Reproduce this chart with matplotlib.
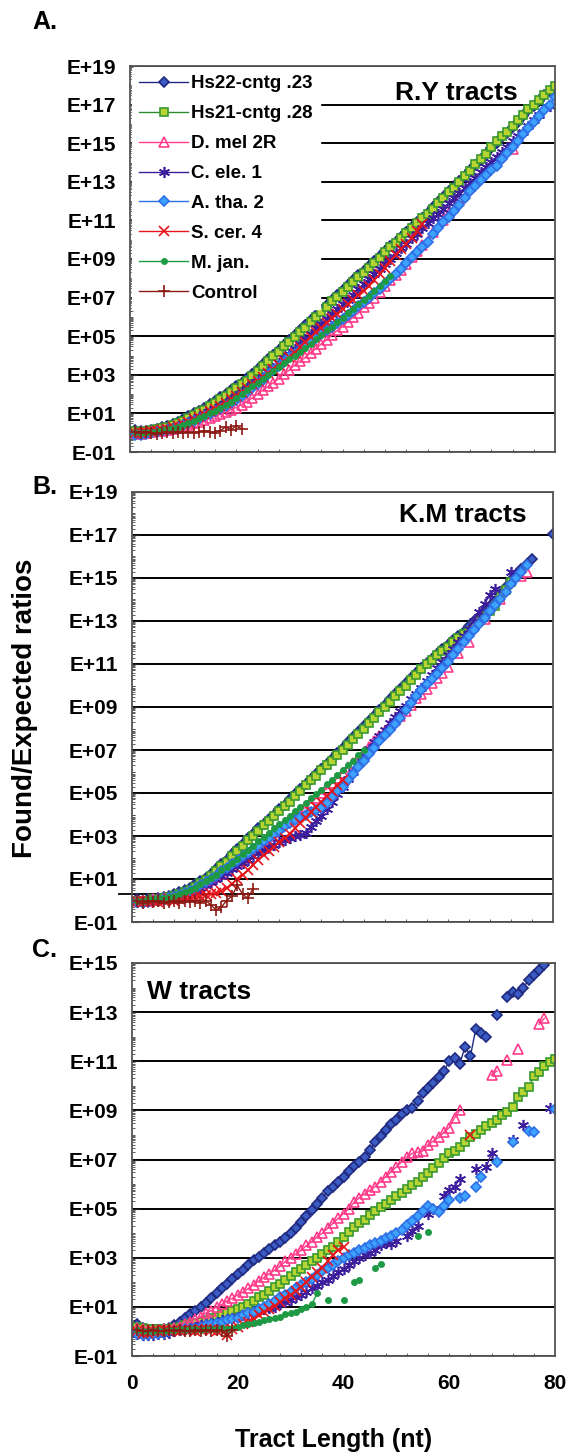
import numpy as np
import matplotlib
matplotlib.use("Agg")
import matplotlib.pyplot as plt
from matplotlib.ticker import FixedLocator, FuncFormatter, LogLocator, MultipleLocator

plt.rcParams['font.family'] = ['Liberation Sans', 'DejaVu Sans']
plt.rcParams['font.weight'] = 'bold'

# series names (legend order)
NAMES = ["Hs22-cntg .23", "Hs21-cntg .28", "D. mel 2R", "C. ele. 1",
         "A. tha. 2", "S. cer. 4", "M. jan.", "Control"]

# values are log10(found/expected), first value is tract length 1; None = no point
# ---- A. R.Y tracts
A_HS22 = [0.15, 0.1, 0.1, 0.15, 0.2, 0.3, 0.35, 0.45, 0.55, 0.7,
          0.85, 1.0, 1.15, 1.3, 1.5, 1.65, 1.85, 2.0, 2.2, 2.4,
          2.6, 2.85, 3.05, 3.3, 3.55, 3.8, 4.05, 4.3, 4.55, 4.8,
          5.05, 5.3, 5.6, 5.85, 6.1, 6.35, 6.6, 6.9, 7.15, 7.4,
          7.65, 7.9, 8.15, 8.4, 8.65, 8.9, 9.15, 9.4, 9.65, 9.9,
          10.15, 10.4, 10.65, 10.9, 11.15, 11.4, 11.7, 11.95, 12.2, 12.5,
          12.75, 13.05, 13.3, 13.6, 13.85, 14.15, 14.45, 14.75, 15.0, 15.3,
          15.55, 15.85, 16.1, 16.4, 16.7, 16.95, 17.2, 17.5, 17.7]
A_HS21 = [0.1, 0.05, 0.1, 0.15, 0.2, 0.25, 0.3, 0.4, 0.5, 0.6,
          0.75, 0.9, 1.05, 1.2, 1.4, 1.55, 1.75, 1.9, 2.1, 2.3,
          2.5, 2.7, 2.95, 3.2, 3.45, 3.7, 3.95, 4.2, 4.5, 4.7,
          4.95, 5.2, 5.45, 5.75, 6.0, 6.25, 6.5, 6.8, 7.05, 7.3,
          7.55, 7.8, 8.05, 8.3, 8.55, 8.8, 9.05, 9.35, 9.6, 9.85,
          10.1, 10.35, 10.6, 10.85, 11.1, 11.35, 11.6, 11.9, 12.15, 12.45,
          12.7, 13.0, 13.3, 13.55, 13.9, 14.2, 14.45, 14.8, 15.1, 15.35,
          15.6, 15.9, 16.2, 16.45, 16.75, 17.0, 17.25, 17.5, 17.75, 17.95]
A_DMEL = [0.0, -0.05, 0.0, 0.05, 0.1, 0.1, 0.15, 0.2, 0.25, 0.3,
          0.4, 0.5, 0.55, 0.65, 0.75, 0.85, 0.95, 1.05, 1.2, 1.3,
          1.45, 1.6, 1.8, 2.0, 2.2, 2.4, 2.6, 2.8, 3.05, 3.25,
          3.5, 3.7, 3.9, 4.15, 4.35, 4.6, 4.8, 5.05, 5.3, 5.5,
          5.75, 6.0, 6.2, 6.5, 6.7, 7.0, 7.3, 7.6, 7.9, 8.15,
          8.45, 8.75, 9.1, 9.4, 9.7, None, 10.4, None, 11.0, 11.4,
          None, 12.1, None, 12.8, None, None, None, None, None, None,
          None, 14.7]
A_CELE = [0.0, 0.0, 0.05, 0.05, 0.1, 0.15, 0.2, 0.25, 0.35, 0.45,
          0.55, 0.7, 0.8, 0.95, 1.1, 1.25, 1.4, 1.55, 1.75, 1.9,
          2.1, 2.3, 2.5, 2.7, 2.9, 3.15, 3.35, 3.6, 3.85, 4.1,
          4.35, 4.6, 4.85, 5.1, 5.4, 5.65, 5.9, 6.15, 6.4, 6.65,
          6.9, 7.15, 7.45, 7.7, 7.95, 8.2, 8.5, 8.75, 9.0, 9.3,
          9.55, 9.8, 10.1, 10.3, 10.6, 10.85, 11.1, 11.35, 11.6, 11.9,
          12.15, 12.4, 12.7, 12.95, 13.2, 13.5, 13.75, 14.05, 14.3, 14.55,
          14.8, 15.1, 15.35, 15.6, 15.9, 16.2, 16.45, None, 16.95]
A_ATHA = [-0.1, -0.1, -0.05, 0.0, 0.05, 0.1, 0.15, 0.2, 0.3, 0.4,
          0.5, 0.6, 0.7, 0.85, 0.95, 1.1, 1.25, 1.4, 1.55, 1.7,
          1.9, 2.1, 2.3, 2.5, 2.75, 3.05, 3.25, 3.45, 3.65, 3.9,
          4.1, 4.3, 4.5, 4.7, 4.9, 5.1, 5.3, 5.5, 5.7, 5.9,
          6.1, 6.3, 6.55, 6.75, 7.0, 7.25, 7.45, 7.7, 7.95, 8.2,
          8.5, 8.8, 9.1, 9.35, 9.6, 9.9, 10.3, 10.6, 10.9, 11.2,
          11.5, 11.8, 12.15, 12.5, 12.8, 13.1, 13.35, 13.6, 13.8, 14.2,
          14.5, 14.8, 15.1, 15.5, 15.8, 16.1, 16.4, 16.7, 17.0, 17.4]
A_SCER = [0.0, 0.0, 0.05, 0.1, 0.1, 0.15, 0.2, 0.3, 0.35, 0.45,
          0.55, 0.7, 0.8, 0.95, 1.1, 1.25, 1.4, 1.55, 1.75, 1.9,
          2.1, 2.3, 2.5, 2.7, 2.9, 3.1, 3.3, 3.5, 3.7, 3.9,
          4.15, 4.45, 4.7, 4.95, 5.2, 5.45, 5.7, 5.95, 6.15, 6.4,
          6.65, 6.9, 7.15, 7.35, 7.6, 7.9, 8.2, 8.55, 8.9, 9.2,
          9.5, 9.8, 10.1, 10.45, 10.8]
A_MJAN = [0.05, 0.0, 0.05, 0.05, 0.1, 0.15, 0.2, 0.25, 0.3, 0.4,
          0.5, 0.6, 0.75, 0.85, 1.0, 1.15, 1.3, 1.45, 1.6, 1.8,
          2.0, 2.2, 2.4, 2.6, 2.8, 3.0, 3.2, 3.4, 3.6, 3.8,
          4.0, 4.2, 4.4, 4.6, 4.85, 5.05, 5.3, 5.5, 5.75, 5.95,
          6.2, 6.4, 6.65, 6.9, 7.1, 7.35, 7.6, 7.85, 8.1]
A_CTRL = [0.05, 0.0, 0.05, 0.0, -0.05, 0.0, 0.05, 0.0, 0.05, 0.0,
          0.05, 0.0, 0.05, 0.1, 0.05, 0.0, 0.1, 0.3, 0.15, 0.35, 0.2]

# ---- B. K.M tracts
B_HS22 = [0.05, 0.0, 0.05, 0.05, 0.1, 0.15, 0.2, 0.3, 0.4, 0.5,
          0.6, 0.75, 0.9, 1.05, 1.25, 1.45, 1.7, 1.9, 2.15, 2.4,
          2.65, 2.9, 3.1, 3.35, 3.55, 3.8, 4.0, 4.25, 4.45, 4.7,
          4.95, 5.2, 5.4, 5.65, 5.9, 6.1, 6.35, 6.6, 6.85, 7.1,
          7.35, 7.6, 7.85, 8.1, 8.35, 8.6, 8.85, 9.1, 9.35, 9.6,
          9.85, 10.1, 10.35, 10.6, 10.8, 11.05, 11.25, 11.45, 11.7, 11.9,
          12.1, 12.3, 12.5, 12.75, 13.0, 13.2, 13.45, 13.7, 13.95, 14.25,
          14.6, 14.9, 15.15, 15.4, 15.65, 15.9, None, None, None, 17.05]
B_HS21 = [0.0, -0.05, 0.0, 0.05, 0.05, 0.1, 0.15, 0.2, 0.3, 0.4,
          0.5, 0.65, 0.8, 0.95, 1.15, 1.35, 1.6, 1.8, 2.05, 2.3,
          2.55, 2.8, 3.0, 3.25, 3.5, 3.7, 3.95, 4.15, 4.4, 4.6,
          4.85, 5.1, 5.35, 5.6, 5.8, 6.05, 6.3, 6.5, 6.75, 7.0,
          7.25, 7.5, 7.75, 8.0, 8.25, 8.5, 8.75, 9.0, 9.25, 9.5,
          9.75, 10.0, 10.25, 10.5, 10.75, 11.0, 11.2, 11.4, 11.6, 11.8,
          12.0, 12.2, 12.4, 12.55, 12.7, 13.0, 13.25, 13.45, 13.7, 14.1,
          14.45, 14.8]
B_DMEL = [0.0, 0.0, 0.0, 0.05, 0.05, 0.1, 0.1, 0.15, 0.2, 0.3,
          0.4, 0.5, 0.65, 0.8, 0.95, 1.1, 1.25, 1.4, 1.6, 1.8,
          2.0, 2.2, 2.4, 2.6, 2.8, 3.0, 3.2, 3.4, 3.6, 3.8,
          3.95, 4.15, 4.35, 4.55, 4.75, 5.0, 5.2, 5.45, 5.7, 5.95,
          6.2, 6.4, 6.65, 6.9, 7.15, 7.4, 7.65, 7.9, 8.15, 8.4,
          8.6, 8.8, 9.1, 9.4, 9.6, 9.85, 10.1, 10.35, 10.6, 10.85,
          None, 11.5, None, 12.0, None, None, 13.1, None, None, 14.0,
          None, None, None, 15.1, 15.3]
B_CELE = [-0.05, -0.05, 0.0, 0.0, 0.05, 0.05, 0.1, 0.15, 0.2, 0.3,
          0.4, 0.5, 0.6, 0.7, 0.85, 1.0, 1.15, 1.3, 1.45, 1.6,
          1.75, 1.9, 2.05, 2.2, 2.35, 2.5, 2.6, 2.7, 2.8, 2.9,
          3.0, 3.05, 3.15, 3.4, 3.7, 3.95, 4.25, 4.6, 4.95, 5.3,
          5.65, 6.0, 6.35, 6.7, 7.05, 7.35, 7.65, 7.95, 8.25, 8.55,
          8.8, 9.05, 9.35, 9.6, 9.9, 10.2, 10.5, 10.8, 11.1, 11.4,
          11.7, 12.0, 12.3, 12.65, 13.0, 13.4, 13.8, 14.2, 14.5, None,
          None, 15.3]
B_ATHA = [-0.05, -0.1, -0.05, 0.0, 0.0, 0.05, 0.1, 0.15, 0.25, 0.35,
          0.45, 0.55, 0.7, 0.85, 1.0, 1.15, 1.35, 1.5, 1.7, 1.85,
          2.05, 2.2, 2.4, 2.55, 2.75, 2.9, 3.1, 3.25, 3.45, 3.6,
          3.75, 3.9, 4.0, 4.1, 4.2, 4.3, 4.55, 4.8, 5.1, 5.3,
          5.6, 5.9, 6.2, 6.5, 6.8, 7.1, 7.4, 7.7, 7.95, 8.2,
          8.5, 8.85, 9.2, 9.5, 9.8, 10.05, 10.3, 10.55, 10.8, 11.1,
          11.4, 11.7, 12.0, 12.3, 12.6, 12.85, 13.15, 13.45, 13.75, 14.0,
          14.35, 14.7, 15.0, 15.3, 15.6]
B_SCER = [0.0, -0.05, 0.0, 0.0, -0.05, 0.0, 0.05, 0.0, 0.05, 0.1,
          0.1, 0.15, 0.2, 0.25, 0.3, 0.35, 0.45, 0.6, 0.75, 1.0,
          1.2, 1.4, 1.65, 1.9, 2.1, 2.3, 2.5, 2.7, 2.9, 3.1,
          3.35, 3.6, 3.85, 4.1, 4.35, 4.6, 4.85, 5.1, 5.35, 5.6]
B_MJAN = [0.0, 0.0, 0.05, 0.05, 0.1, 0.1, 0.15, 0.2, 0.3, 0.4,
          0.5, 0.6, 0.75, 0.9, 1.05, 1.2, 1.4, 1.55, 1.75, 1.95,
          2.15, 2.35, 2.55, 2.75, 2.95, 3.15, 3.35, 3.55, 3.75, 3.95,
          4.15, 4.35, 4.55, 4.75, 4.95, 5.15, 5.4, 5.6, 5.85, 6.05,
          6.3, 6.5, 6.75, 7.0]
B_CTRL = [0.0, -0.1, 0.0, -0.05, 0.0, -0.1, -0.05, 0.0, -0.1, 0.0,
          -0.05, 0.0, -0.1, 0.0, -0.2, -0.45, -0.3, 0.0, 0.2, 0.7,
          0.3, 0.1, 0.55]
B_LINE = 0.3   # extra reference line drawn across panel B

# ---- C. W tracts
C_HS22 = [0.3, 0.15, 0.05, 0.05, 0.05, 0.1, 0.15, 0.25, 0.4, 0.55,
          0.7, 0.85, 1.0, 1.15, 1.35, 1.55, 1.75, 1.95, 2.15, 2.35,
          2.5, 2.7, 2.9, 3.05, 3.2, 3.35, 3.5, 3.65, 3.8, 4.0,
          4.2, 4.45, 4.7, 4.95, 5.2, 5.45, 5.7, 5.9, 6.1, 6.3,
          6.55, 6.75, 6.9, 7.1, 7.4, 7.7, 7.95, 8.2, 8.45, 8.6,
          8.85, 9.0, 9.1, 9.4, 9.7, 9.9, 10.1, 10.35, 10.6, 11.0,
          11.15, 10.9, 11.6, 11.2, 12.3, 12.15, 12.0, None, 12.9, None,
          13.6, 13.8, 13.75, 14.0, 14.3, 14.5, 14.7, 14.9]
C_HS21 = [0.2, 0.15, 0.1, 0.1, 0.1, 0.1, 0.1, 0.15, 0.2, 0.25,
          0.3, 0.35, 0.4, 0.45, 0.55, 0.6, 0.7, 0.75, 0.85, 0.9,
          1.0, 1.1, 1.25, 1.4, 1.5, 1.65, 1.8, 1.95, 2.1, 2.25,
          2.4, 2.55, 2.7, 2.85, 3.0, 3.15, 3.3, 3.45, 3.65, 3.85,
          4.05, 4.25, 4.4, 4.55, 4.75, 4.9, 5.05, 5.2, 5.35, 5.5,
          5.65, 5.8, 5.95, 6.1, 6.3, 6.45, 6.65, 6.85, 7.05, 7.25,
          7.35, 7.5, 7.7, 7.9, 8.05, 8.2, 8.35, 8.5, 8.6, 8.8,
          8.95, 9.15, 9.55, 9.75, 9.95, 10.4, 10.55, 10.8, 10.95, 11.1]
C_DMEL = [0.15, 0.1, 0.05, 0.05, 0.05, 0.1, 0.1, 0.15, 0.2, 0.3,
          0.4, 0.5, 0.6, 0.75, 0.85, 1.0, 1.1, 1.25, 1.35, 1.5,
          1.6, 1.75, 1.9, 2.05, 2.2, 2.35, 2.5, 2.65, 2.85, 3.0,
          3.15, 3.3, 3.5, 3.65, 3.85, 4.0, 4.2, 4.4, 4.6, 4.8,
          5.0, 5.25, 5.45, 5.6, 5.75, 5.9, 6.1, 6.3, 6.5, 6.7,
          6.9, 7.1, 7.25, 7.3, 7.35, 7.6, 7.75, 7.9, 8.1, 8.3,
          8.7, 9.0, None, None, None, None, None, 10.45, 10.6, None,
          11.05, None, 11.5, None, None, None, 12.5, 12.75]
C_CELE = [-0.1, -0.15, -0.15, -0.15, -0.1, -0.1, -0.05, 0.0, 0.05, 0.1,
          0.15, 0.2, 0.25, 0.3, 0.35, 0.4, 0.45, 0.5, 0.55, 0.6,
          0.65, 0.7, 0.8, 0.85, 0.9, 0.95, 1.0, 1.1, 1.2, 1.3,
          1.4, 1.5, 1.6, 1.75, 1.85, 2.0, 2.1, 2.25, 2.4, 2.55,
          2.7, 2.85, 3.0, 3.1, 3.2, 3.3, 3.5, 3.6, 3.55, 3.7,
          None, 3.9, 4.1, 4.3, None, 4.8, 5.0, None, 5.5, 5.75,
          5.9, 6.2, None, None, 6.6, None, 6.7, 7.25, None, None,
          None, 7.8, None, 8.4, None, None, None, None, 9.1]
C_ATHA = [-0.1, -0.15, -0.15, -0.1, -0.1, -0.05, 0.0, 0.0, 0.05, 0.1,
          0.1, 0.15, 0.2, 0.25, 0.3, 0.35, 0.4, 0.45, 0.5, 0.55,
          0.65, 0.75, 0.8, 0.9, 1.0, 1.1, 1.25, 1.4, 1.5, 1.6,
          1.75, 1.9, 2.0, 2.15, 2.3, 2.45, 2.6, 2.7, 2.85, 3.0,
          3.1, 3.2, 3.3, 3.4, 3.5, 3.6, 3.7, 3.8, 3.9, 4.0,
          4.15, 4.35, 4.5, 4.7, 4.9, 5.1, 5.0, 4.85, 5.1, 5.35,
          None, 5.45, 5.5, None, 5.9, 6.3, None, None, 6.9, None,
          None, 7.7, None, None, 8.15, 8.1, None, None, None, 9.05]
C_SCER = [0.0, -0.05, -0.05, 0.0, 0.0, 0.05, 0.0, 0.05, 0.0, 0.05,
          0.05, 0.0, 0.05, 0.1, 0.05, 0.0, 0.05, -0.15, 0.1, 0.2,
          0.3, 0.4, 0.5, 0.65, 0.8, 0.9, 1.05, 1.2, 1.35, 1.5,
          1.65, 1.8, 2.0, 2.2, 2.4, 2.6, 2.85, 3.1, 3.3, 3.45,
          None, None, None, None, None, None, None, None, None, None,
          None, None, None, None, None, None, None, None, None, None,
          None, None, None, 8.0]
C_MJAN = [0.05, 0.0, 0.0, 0.0, 0.05, 0.0, 0.05, 0.05, 0.1, 0.05,
          0.1, 0.1, 0.05, 0.1, 0.1, 0.1, 0.15, 0.1, 0.15, 0.2,
          0.25, 0.3, 0.35, 0.4, 0.45, 0.5, 0.55, 0.6, 0.7, 0.75,
          0.8, 0.9, 1.0, 1.1, 1.55, None, 1.3, None, None, 1.3,
          None, 2.0, 2.1, None, None, 2.6, 2.75, None, None, None,
          None, None, None, 3.9, None, 4.05]
C_CTRL = [0.05, 0.0, 0.0, 0.05, 0.0, 0.0, 0.05, 0.0, 0.05, 0.0,
          0.0, 0.05, 0.0, 0.05, 0.0, 0.05, 0.0, -0.2, 0.05]

PANEL_A = [A_HS22, A_HS21, A_DMEL, A_CELE, A_ATHA, A_SCER, A_MJAN, A_CTRL]
PANEL_B = [B_HS22, B_HS21, B_DMEL, B_CELE, B_ATHA, B_SCER, B_MJAN, B_CTRL]
PANEL_C = [C_HS22, C_HS21, C_DMEL, C_CELE, C_ATHA, C_SCER, C_MJAN, C_CTRL]

X_TICKS = [0, 20, 40, 60, 80]

# marker styles for each series
STYLES = [
    dict(color='#1f2a80', marker='D', ms=5.5, mfc='#3b5cc4', mec='#1f2a80'),
    dict(color='#2b8a2b', marker='s', ms=6, mfc='#b7d432', mec='#3a9a30'),
    dict(color='#ff3b8a', marker='^', ms=7, mfc='none', mec='#ff3b8a'),
    dict(color='#3d1f9e', marker=(6, 2, 0), ms=8, mec='#3d1f9e'),
    dict(color='#2f6fe6', marker='D', ms=5.5, mfc='#3ea2ff', mec='#2f6fe6'),
    dict(color='#e6151b', marker='x', ms=6.5, mec='#e6151b'),
    dict(color='#1e9a44', marker='o', ms=3.8, mfc='#1e9a44', mec='#1e9a44'),
    dict(color='#8c1a14', marker='+', ms=8, mec='#8c1a14'),
]

W, H = 568, 1456
fig = plt.figure(figsize=(W / 100, H / 100), dpi=100)


def make_axes(left, top, right, bottom):
    return fig.add_axes([left / W, 1 - bottom / H, (right - left) / W, (bottom - top) / H])


def setup(ax, top_exp, show_x):
    ax.set_yscale('log')
    ax.set_ylim(10.0 ** -1, 10.0 ** top_exp)
    ax.set_xlim(0, 80)
    ax.yaxis.set_major_locator(FixedLocator([10.0 ** k for k in range(-1, top_exp + 1, 2)]))
    ax.yaxis.set_minor_locator(LogLocator(base=10, subs=np.arange(1, 10), numticks=100))
    ax.yaxis.set_major_formatter(FuncFormatter(lambda v, p: "E%+03d" % round(np.log10(v))))
    ax.yaxis.set_minor_formatter(FuncFormatter(lambda v, p: ""))
    ax.xaxis.set_major_locator(FixedLocator(X_TICKS))
    ax.xaxis.set_minor_locator(MultipleLocator(4))
    ax.tick_params(axis='y', which='major', direction='in', length=5, width=0.8,
                   labelsize=15, pad=10, colors='#222222', labelcolor='black')
    ax.tick_params(axis='y', which='minor', direction='in', length=2.5, width=0.6, colors='#444444')
    ax.tick_params(axis='x', which='both', direction='in', length=2.5, width=0.6,
                   colors='#444444', labelcolor='black', labelsize=15, pad=13,
                   labelbottom=show_x)
    ax.yaxis.grid(True, which='major', color='black', lw=1.4)
    ax.set_axisbelow(True)
    for s in ax.spines.values():
        s.set_color('#555555')
        s.set_linewidth(1.3)


def draw(ax, panel):
    handles = []
    for vals, st in zip(panel, STYLES):
        y = np.array([np.nan if v is None else v for v in vals], dtype=float)
        x = np.arange(1, len(y) + 1)
        h, = ax.plot(x, 10.0 ** y, lw=1.0, mew=1.2, **st)
        handles.append(h)
    return handles


ax_a = make_axes(130, 66, 555, 452)
ax_b = make_axes(132, 492, 553, 922)
ax_c = make_axes(132, 963, 555, 1356)

setup(ax_a, 19, False)
setup(ax_b, 19, False)
setup(ax_c, 15, True)

hs = draw(ax_a, PANEL_A)
draw(ax_b, PANEL_B)
draw(ax_c, PANEL_C)

leg = ax_a.legend(hs, NAMES, loc='upper left', bbox_to_anchor=(0, 1), frameon=True,
                  fancybox=False, facecolor='white', edgecolor='white', framealpha=1,
                  borderaxespad=0.1, borderpad=0.4, handlelength=2.6, handletextpad=0.15,
                  labelspacing=0.68, prop=dict(size=13.5, weight='bold'))
leg.set_zorder(5)

ax_b.plot([-0.03, 1.0], [10 ** B_LINE] * 2, color='black', lw=1.3,
          transform=ax_b.get_yaxis_transform(), clip_on=False, zorder=1)

ax_a.text(0.913, 0.93, "R.Y tracts", transform=ax_a.transAxes, ha='right', va='center',
          fontsize=19, fontweight='bold')
ax_b.text(0.938, 0.947, "K.M tracts", transform=ax_b.transAxes, ha='right', va='center',
          fontsize=19, fontweight='bold')
ax_c.text(0.035, 0.926, "W tracts", transform=ax_c.transAxes, ha='left', va='center',
          fontsize=19, fontweight='bold')

fig.text(32 / W, 1 - 22 / H, "A.", ha='left', va='center', fontsize=18, fontweight='bold')
fig.text(32 / W, 1 - 487 / H, "B.", ha='left', va='center', fontsize=18, fontweight='bold')
fig.text(32 / W, 1 - 950 / H, "C.", ha='left', va='center', fontsize=18, fontweight='bold')

fig.text(25 / W, 1 - 708 / H, "Found/Expected ratios", rotation=90, ha='center', va='center',
         fontsize=20, fontweight='bold')
fig.text(334 / W, 1 - 1440 / H, "Tract Length (nt)", ha='center', va='center',
         fontsize=18, fontweight='bold')

fig.savefig("out.png", dpi=100, facecolor='white')
